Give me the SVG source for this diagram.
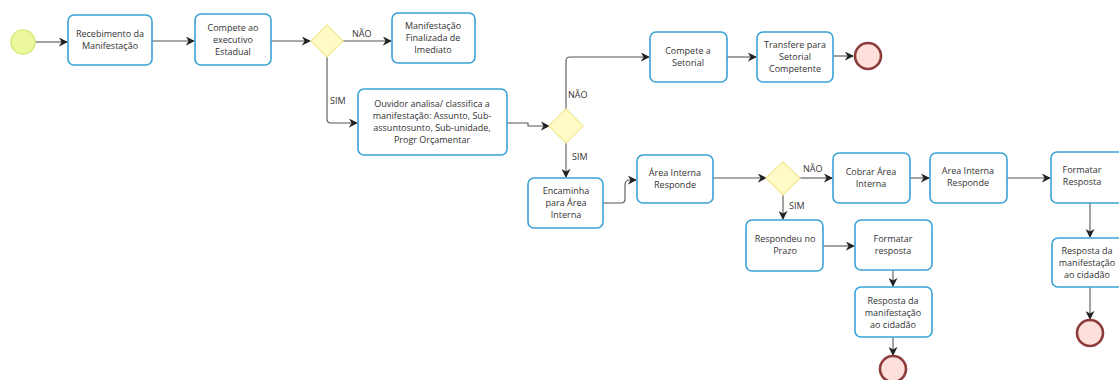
<svg xmlns="http://www.w3.org/2000/svg" width="1119" height="380" viewBox="0 0 1119 380">
<defs>
<marker id="arr" viewBox="0 0 10 10" refX="9" refY="5" markerWidth="9" markerHeight="9" orient="auto" markerUnits="userSpaceOnUse">
<path d="M0,0 L10,5 L0,10 L3,5 Z" fill="#222"/>
</marker>
<style>
.box{fill:#fff;stroke:#3aa2d6;stroke-width:1.6}
.gw{fill:#fffbc6;stroke:#f3eb9a;stroke-width:1.4}
.t{font-family:"Open Sans","DejaVu Sans",sans-serif;font-size:9px;fill:#333;text-anchor:middle}
.lb{font-family:"Open Sans","DejaVu Sans",sans-serif;font-size:9px;fill:#333}
.c{fill:none;stroke:#555;stroke-width:1.1}
.end{fill:#fde0dc;stroke:#8e3b3b;stroke-width:2.6}
</style>
</defs>
<rect width="1119" height="380" fill="#fff"/>
<g id="connectors">
<path class="c" d="M35,42 H67" marker-end="url(#arr)"/>
<path class="c" d="M152,41 H194" marker-end="url(#arr)"/>
<path class="c" d="M271,41 H310" marker-end="url(#arr)"/>
<path class="c" d="M342,41 H391" marker-end="url(#arr)"/>
<path class="c" d="M327,57 V119 Q327,123 331,123 H357" marker-end="url(#arr)"/>
<path class="c" d="M507,123 H528 V126 H549" marker-end="url(#arr)"/>
<path class="c" d="M566,109 V61 Q566,57 570,57 H649" marker-end="url(#arr)"/>
<path class="c" d="M727,57 H756" marker-end="url(#arr)"/>
<path class="c" d="M833,56 H853" marker-end="url(#arr)"/>
<path class="c" d="M566,142 V177" marker-end="url(#arr)"/>
<path class="c" d="M603,203 H621 Q625,203 625,199 V185 Q625,180 630,180 H636" marker-end="url(#arr)"/>
<path class="c" d="M713,178 H766" marker-end="url(#arr)"/>
<path class="c" d="M800,178 H832" marker-end="url(#arr)"/>
<path class="c" d="M910,178 H929" marker-end="url(#arr)"/>
<path class="c" d="M1007,178 H1050" marker-end="url(#arr)"/>
<path class="c" d="M783,195 V219" marker-end="url(#arr)"/>
<path class="c" d="M823,246 H854" marker-end="url(#arr)"/>
<path class="c" d="M893,270 V286" marker-end="url(#arr)"/>
<path class="c" d="M893,337 V355" marker-end="url(#arr)"/>
<path class="c" d="M1090,203 V237" marker-end="url(#arr)"/>
<path class="c" d="M1090,287 V319" marker-end="url(#arr)"/>
</g>
<g id="labels">
<text class="lb" x="352" y="37">NÃO</text>
<text class="lb" x="330" y="104">SIM</text>
<text class="lb" x="568" y="98">NÃO</text>
<text class="lb" x="572" y="160">SIM</text>
<text class="lb" x="803" y="172">NÃO</text>
<text class="lb" x="789" y="209">SIM</text>
</g>
<g id="start"><circle cx="23" cy="42" r="12" fill="#ecf79e" stroke="#d6ec7a" stroke-width="1.6"/></g>
<g id="n1"><rect class="box" x="68" y="15" width="84" height="50" rx="6"/>
<text class="t" x="110" y="37">Recebimento da</text><text class="t" x="110" y="49">Manifestação</text></g>
<g id="n2"><rect class="box" x="195" y="14" width="76" height="51" rx="6"/>
<text class="t" x="233" y="31">Compete ao</text><text class="t" x="233" y="43">executivo</text><text class="t" x="233" y="55">Estadual</text></g>
<g id="g1"><polygon class="gw" points="327,25 343,41 327,57 311,41"/></g>
<g id="n3"><rect class="box" x="392" y="13" width="83" height="50" rx="6"/>
<text class="t" x="433" y="29">Manifestação</text><text class="t" x="433" y="41">Finalizada de</text><text class="t" x="433" y="53">Imediato</text></g>
<g id="n4"><rect class="box" x="358" y="89" width="149" height="66" rx="6"/>
<text class="t" x="432" y="107">Ouvidor analisa/ classifica a</text><text class="t" x="432" y="119">manifestação: Assunto, Sub-</text><text class="t" x="432" y="131">assuntosunto, Sub-unidade,</text><text class="t" x="432" y="143">Progr Orçamentar</text></g>
<g id="g2"><polygon class="gw" points="566,109 583,126 566,143 549,126"/></g>
<g id="n5"><rect class="box" x="650" y="32" width="77" height="50" rx="6"/>
<text class="t" x="688" y="54">Compete a</text><text class="t" x="688" y="66">Setorial</text></g>
<g id="n6"><rect class="box" x="757" y="32" width="76" height="50" rx="6"/>
<text class="t" x="795" y="48">Transfere  para</text><text class="t" x="795" y="60">Setorial</text><text class="t" x="795" y="72">Competente</text></g>
<g id="end1"><circle class="end" cx="868" cy="56" r="13"/></g>
<g id="n7"><rect class="box" x="528" y="178" width="75" height="50" rx="6"/>
<text class="t" x="566" y="194">Encaminha</text><text class="t" x="566" y="206">para Área</text><text class="t" x="566" y="218">Interna</text></g>
<g id="n8"><rect class="box" x="637" y="155" width="76" height="48" rx="6"/>
<text class="t" x="675" y="176">Área Interna</text><text class="t" x="675" y="188">Responde</text></g>
<g id="g3"><polygon class="gw" points="783,162 800,178 783,195 766,178"/></g>
<g id="n9"><rect class="box" x="833" y="153" width="77" height="50" rx="6"/>
<text class="t" x="871" y="175">Cobrar Área</text><text class="t" x="871" y="187">Interna</text></g>
<g id="n10"><rect class="box" x="930" y="153" width="77" height="50" rx="6"/>
<text class="t" x="968" y="174">Area Interna</text><text class="t" x="968" y="186">Responde</text></g>
<g id="n11"><rect class="box" x="1051" y="152" width="80" height="51" rx="6"/>
<text class="t" x="1082" y="173">Formatar</text><text class="t" x="1082" y="185">Resposta</text></g>
<g id="n12"><rect class="box" x="746" y="220" width="77" height="51" rx="6"/>
<text class="t" x="785" y="242">Respondeu no</text><text class="t" x="785" y="254">Prazo</text></g>
<g id="n13"><rect class="box" x="855" y="220" width="77" height="50" rx="6"/>
<text class="t" x="893" y="242">Formatar</text><text class="t" x="893" y="254">resposta</text></g>
<g id="n14"><rect class="box" x="855" y="287" width="77" height="50" rx="6"/>
<text class="t" x="893" y="304">Resposta da</text><text class="t" x="893" y="316">manifestação</text><text class="t" x="893" y="328">ao cidadão</text></g>
<g id="end2"><circle class="end" cx="893" cy="369" r="13"/></g>
<g id="n15"><rect class="box" x="1052" y="238" width="80" height="49" rx="6"/>
<text class="t" x="1087" y="254">Resposta da</text><text class="t" x="1087" y="266">manifestação</text><text class="t" x="1087" y="278">ao cidadão</text></g>
<g id="end3"><circle class="end" cx="1090" cy="333" r="13"/></g>
</svg>
